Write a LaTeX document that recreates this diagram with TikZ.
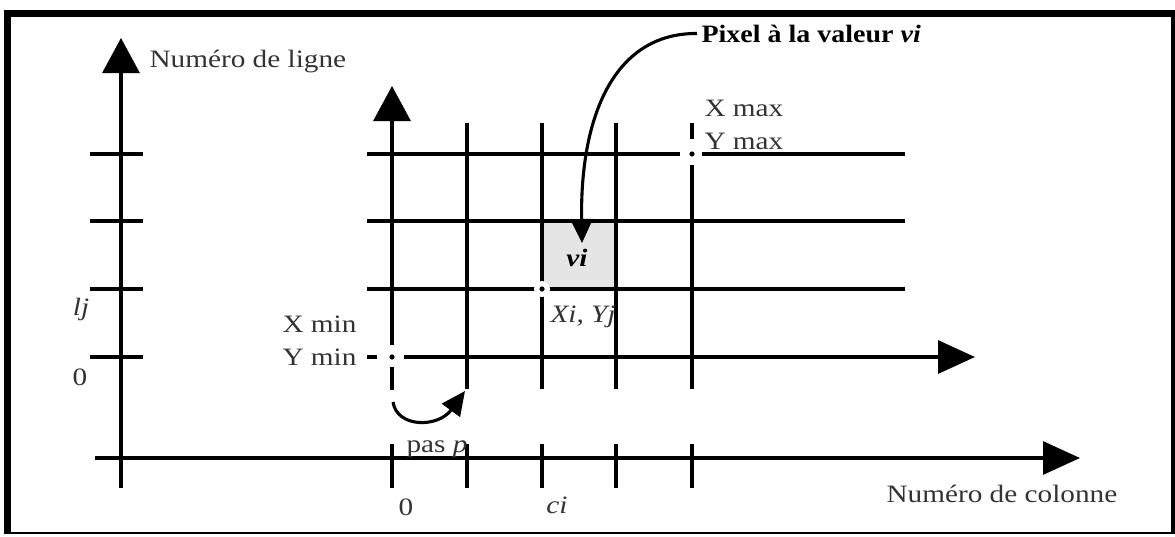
\documentclass[tikz,border=0pt]{standalone}
\usepackage{fontspec}
\setmainfont{Liberation Serif}
\usetikzlibrary{arrows.meta}
\newcommand\hstretch[1]{\scalebox{1.17}[1]{#1}}
\begin{document}
\begin{tikzpicture}[x=1pt,y=-1pt,line width=3.1pt,
  lbl/.style={inner sep=0pt, font=\fontsize{25}{30}\selectfont, text=black!80},
  vtip/.style={-{Triangle[length=35pt,width=37pt]}},
  htip/.style={-{Triangle[length=37pt,width=33pt]}},
  ctip/.style={-{Triangle[length=24pt,width=22pt]}},
  gridline/.style={line width=3.1pt},
  ptdot/.style={fill=black},
  halo/.style={fill=white}]
\useasboundingbox (0,0) rectangle (1175,536);
% frame
\fill (4,10) rectangle (1175,17);
\fill (4,10) rectangle (11,534);
\fill (1171,10) rectangle (1175,534);
\fill (4,532) rectangle (1175,534);
% shaded pixel
\fill[black!10] (542,221) rectangle (616,289);
% coordinates
\coordinate (la0) at (121,488);
\coordinate (la1) at (121,38);
\coordinate (ba0) at (95,458);
\coordinate (ba1) at (1080,458);
\coordinate (O) at (392,357);
\coordinate (M) at (692,154);
\coordinate (P) at (542,289);
% left axis
\draw[vtip] (la0) -- (la1);
\foreach \y in {154,221,289,357} \draw[gridline] (90,\y) -- (143,\y);
% bottom axis
\draw[htip] (ba0) -- (ba1);
\foreach \x in {392,467,542,616,692} \draw[gridline] (\x,444) -- (\x,488);
% grid verticals
\draw[vtip] (392,345) -- (392,86);
\draw[gridline] (392,367) -- (392,390);
\foreach \x in {467,542,616} \draw[gridline] (\x,123) -- (\x,389);
\draw[gridline] (692,123) -- (692,139);
\draw[gridline] (692,165) -- (692,389);
% grid horizontals
\draw[gridline] (367,154) -- (680,154);
\draw[gridline] (702,154) -- (905,154);
\foreach \y in {221,289} \draw[gridline] (367,\y) -- (905,\y);
\draw[gridline] (367,357) -- (377,357);
\draw[htip] (404,357) -- (975,357);
% special points
\fill[halo] (P) circle (8);
\fill[ptdot] (P) circle (2.6);
\fill[ptdot] (O) circle (2.6);
\fill[ptdot] (M) circle (2.6);
% labels
\node[lbl, anchor=base west] (nligne) at (148,67) {\hstretch{Numéro de ligne}};
\node[lbl, anchor=base west] (ncol) at (885,502) {\hstretch{Numéro de colonne}};
\node[lbl, anchor=base west, text=black] (pix) at (700,42) {\scalebox{1.12}[1]{\bfseries Pixel à la valeur \textit{vi}}};
\node[lbl, anchor=base east] (xmin) at (358,332) {\hstretch{X min}};
\node[lbl, anchor=base east] (ymin) at (358,365) {\hstretch{Y min}};
\node[lbl, anchor=base west] (xmax) at (703,116) {\hstretch{X max}};
\node[lbl, anchor=base west] (ymax) at (703,149) {\hstretch{Y max}};
\node[lbl, anchor=base west] (xiyj) at (549,322) {\hstretch{\itshape Xi, Yj}};
\node[lbl, anchor=base, text=black] (vi) at (577,266) {\hstretch{\bfseries\itshape vi}};
\node[lbl, anchor=base west] (pas) at (405,452) {\hstretch{pas \textit{p}}};
\node[lbl, anchor=base] (zb) at (406,515) {\hstretch{0}};
\node[lbl, anchor=base] (ci) at (557,513) {\hstretch{\itshape ci}};
\node[lbl, anchor=base] (lj) at (81,315) {\hstretch{\itshape lj}};
\node[lbl, anchor=base] (zl) at (80,385) {\hstretch{0}};
% curved arrows
\coordinate (vitip) at (582,243);
\draw[ctip] ([xshift=-3pt]pix.west) .. controls (612,33) and (580,120) .. (vitip);
\coordinate (ps0) at (393,402);
\coordinate (ps1) at (465,391);
\draw[ctip] (ps0) .. controls (397,428) and (438,428) .. (ps1);
\end{tikzpicture}
\end{document}
